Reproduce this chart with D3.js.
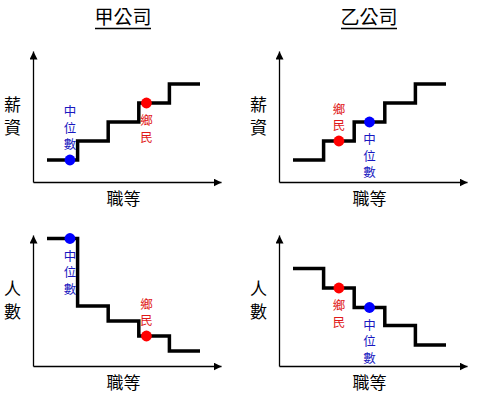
<!DOCTYPE html>
<html>
<head>
<meta charset="utf-8">
<script src="https://cdn.jsdelivr.net/npm/d3@7"></script>
<style>
  body { margin: 0; background: #fff; }
  text { font-family: "Noto Sans CJK TC", "Noto Sans CJK SC", sans-serif; }
</style>
</head>
<body>
<div id="chart"></div>
<script>
// data
var companies = ["甲公司", "乙公司"];
var grades = [0, 1, 2, 3, 4];            // 職等 (steps, left to right)
var salaryA = [1, 2, 3, 4, 5];           // 薪資 level per grade
var salaryB = [1, 2, 3, 4, 5];
var countA = [85, 40, 30, 20, 10];       // 人數 per grade
var countB = [65, 52, 39, 27, 14];
var markerNames = ["中位數", "鄉民"];
var markerGradeA = [0.75, 3.25];         // where each marker sits on the grade axis
var markerGradeB = [2.5, 1.5];

var svgWidth = 480;
var svgHeight = 400;

var svg = d3.select("#chart")
  .append("svg")
  .attr("width", svgWidth)
  .attr("height", svgHeight);

svg.append("defs").append("marker")
  .attr("id", "arrow")
  .attr("markerUnits", "userSpaceOnUse")
  .attr("markerWidth", 10)
  .attr("markerHeight", 10)
  .attr("refX", 8)
  .attr("refY", 4)
  .attr("orient", "auto")
  .append("path")
  .attr("d", "M0,0L8,4L0,8Z")
  .attr("fill", "#000");

var markerColors = ["#0000ff", "#ff0000"];
var labelColors = ["#1818c0", "#e01818"];

// scales shared by all panels (panel-local coords, origin at axis corner)
var x = d3.scaleLinear().domain([0, 5]).range([14, 167]);
var ySalary = d3.scaleLinear().domain([1, 5]).range([-22, -98]);
var yCount = d3.scaleLinear().domain([0, 100]).range([0, -150]);
var xAxisScale = d3.scaleLinear().range([0, 188]);
var yAxisScale = d3.scaleLinear().range([0, -131]);

var panels = [
  { ox: 33,  oy: 182, values: salaryA, y: ySalary, ylabel: "薪資", marks: markerGradeA, place: ["above", "below"] },
  { ox: 279, oy: 182, values: salaryB, y: ySalary, ylabel: "薪資", marks: markerGradeB, place: ["below", "above"] },
  { ox: 33,  oy: 366, values: countA,  y: yCount,  ylabel: "人數", marks: markerGradeA, place: ["below", "above"] },
  { ox: 279, oy: 366, values: countB,  y: yCount,  ylabel: "人數", marks: markerGradeB, place: ["below", "below"] }
];

// titles
companies.forEach(function(name, i) {
  var cx = i === 0 ? 123 : 369;
  svg.append("text")
    .attr("x", cx)
    .attr("y", 24)
    .attr("text-anchor", "middle")
    .attr("font-size", "19px")
    .text(name);
  svg.append("line")
    .attr("x1", cx - 28).attr("x2", cx + 28)
    .attr("y1", 28.5).attr("y2", 28.5)
    .attr("stroke", "#000")
    .attr("stroke-width", 1.5);
});

function stepValue(values, g) {
  return values[Math.min(values.length - 1, Math.floor(g))];
}

// vertical (top-to-bottom) text, one element; top = top edge of first glyph
function vertText(g, chars, cx, top, size, spacing, color) {
  return g.append("text")
    .attr("x", cx)
    .attr("y", top)
    .attr("writing-mode", "vertical-rl")
    .attr("text-anchor", "start")
    .attr("font-size", size + "px")
    .attr("letter-spacing", spacing + "px")
    .attr("fill", color)
    .text(chars);
}

panels.forEach(function(p) {
  var g = svg.append("g").attr("transform", `translate(${p.ox}, ${p.oy})`);

  // axes (no ticks, just arrows)
  var xAxis = g.append("g").call(d3.axisBottom(xAxisScale).tickValues([]).tickSizeOuter(0));
  var yAxis = g.append("g").call(d3.axisLeft(yAxisScale).tickValues([]).tickSizeOuter(0));
  [xAxis, yAxis].forEach(function(a) {
    a.select(".domain")
      .attr("stroke", "#000")
      .attr("stroke-width", 1.3)
      .attr("marker-end", "url(#arrow)");
  });

  // step line
  var pts = grades.map(function(gr, i) { return [x(gr), p.y(p.values[i])]; });
  pts.push([x(grades.length), p.y(p.values[p.values.length - 1])]);
  g.append("path")
    .attr("d", d3.line().curve(d3.curveStepAfter)(pts))
    .attr("fill", "none")
    .attr("stroke", "#000")
    .attr("stroke-width", 3.5);

  // markers + labels
  p.marks.forEach(function(mg, i) {
    var cx = x(mg);
    var cy = p.y(stepValue(p.values, mg));
    g.append("circle")
      .attr("cx", cx)
      .attr("cy", cy)
      .attr("r", 5.4)
      .attr("fill", markerColors[i]);
    var name = markerNames[i];
    var size = 12.5, step = 16.5;
    // first glyph center offset from dot
    var firstCenter = p.place[i] === "above"
      ? cy - 15.5 - (name.length - 1) * step
      : cy + 17.5;
    vertText(g, name, cx, firstCenter - size / 2, size, step - size, labelColors[i]);
  });

  // axis titles
  vertText(g, p.ylabel, -20.5, -77 - 8.5, 17, 22.5 - 17, "#000");
  g.append("text")
    .attr("x", 90.5)
    .attr("y", 15)
    .attr("text-anchor", "middle")
    .attr("dominant-baseline", "central")
    .attr("font-size", "17px")
    .text("職等");
});
</script>
</body>
</html>
